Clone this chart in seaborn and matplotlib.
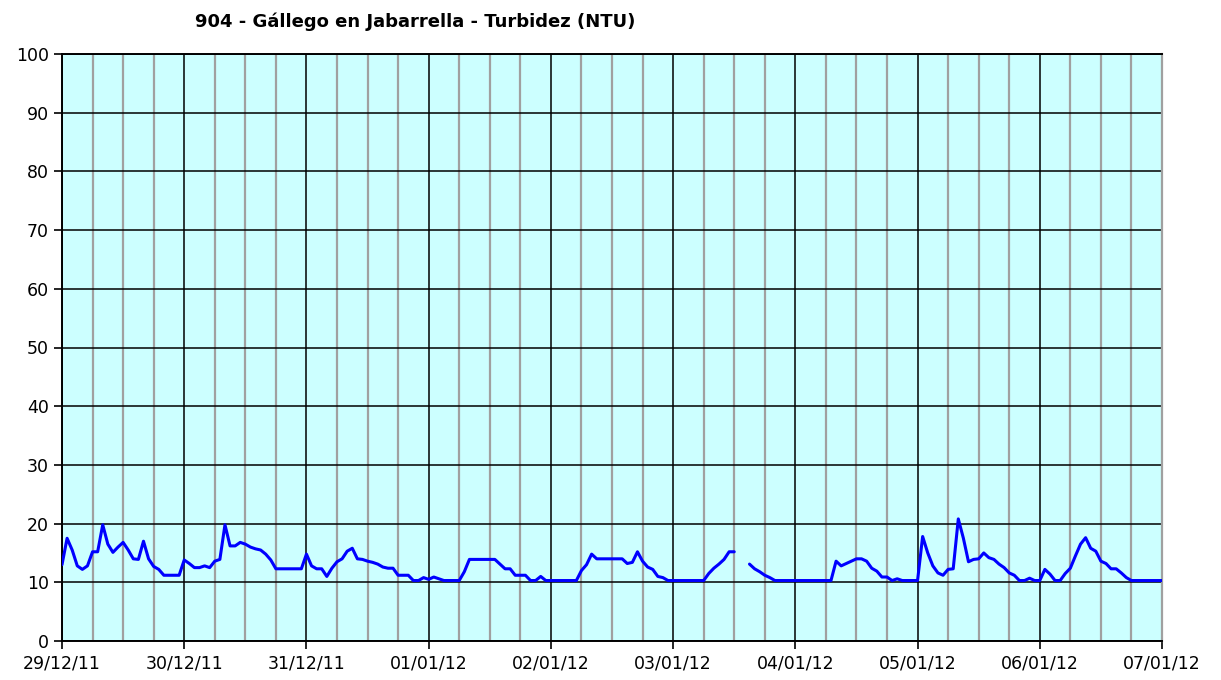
"""Turbidity time series for station 904 - Gállego en Jabarrella."""
import matplotlib
matplotlib.use("Agg")
import matplotlib.pyplot as plt
import matplotlib.dates as mdates
import numpy as np
import pandas as pd
import seaborn as sns

TITLE = "904 - Gállego en Jabarrella - Turbidez (NTU)"
START = "2011-12-29 00:00"

# hourly readings (NTU), one list per day; nan = missing reading
dec29 = [13.0, 17.5, 15.5, 12.8, 12.2, 12.8, 15.2, 15.2, 19.8, 16.5, 15.1, 16.0,
         16.8, 15.5, 14.0, 13.9, 17.0, 14.0, 12.7, 12.2, 11.2, 11.2, 11.2, 11.2]
dec30 = [13.8, 13.2, 12.5, 12.5, 12.8, 12.5, 13.6, 13.9, 19.8, 16.2, 16.2, 16.8,
         16.5, 16.0, 15.7, 15.5, 14.8, 13.8, 12.3, 12.3, 12.3, 12.3, 12.3, 12.3]
dec31 = [14.8, 12.8, 12.3, 12.3, 11.0, 12.4, 13.5, 14.0, 15.3, 15.8, 14.0, 13.9,
         13.6, 13.4, 13.1, 12.6, 12.4, 12.4, 11.2, 11.2, 11.2, 10.3, 10.3, 10.8]
jan01 = [10.5, 10.9, 10.6, 10.3, 10.3, 10.3, 10.3, 11.8, 13.9, 13.9, 13.9, 13.9,
         13.9, 13.9, 13.1, 12.3, 12.3, 11.2, 11.2, 11.2, 10.3, 10.3, 11.0, 10.3]
jan02 = [10.3, 10.3, 10.3, 10.3, 10.3, 10.3, 12.0, 13.0, 14.8, 14.0, 14.0, 14.0,
         14.0, 14.0, 14.0, 13.2, 13.4, 15.2, 13.6, 12.6, 12.2, 11.0, 10.8, 10.3]
jan03 = [10.3, 10.3, 10.3, 10.3, 10.3, 10.3, 10.3, 11.5, 12.4, 13.1, 13.9, 15.2,
         15.2, np.nan, np.nan, 13.1, 12.3, 11.8, 11.2, 10.8, 10.3, 10.3, 10.3, 10.3]
jan04 = [10.3, 10.3, 10.3, 10.3, 10.3, 10.3, 10.3, 10.3, 13.6, 12.8, 13.2, 13.6,
         14.0, 14.0, 13.6, 12.4, 11.9, 10.9, 10.9, 10.3, 10.6, 10.3, 10.3, 10.3]
jan05 = [10.3, 17.8, 15.0, 12.8, 11.6, 11.2, 12.2, 12.3, 20.8, 17.5, 13.5, 13.9,
         14.0, 15.0, 14.2, 13.9, 13.1, 12.5, 11.6, 11.2, 10.3, 10.3, 10.7, 10.3]
jan06 = [10.3, 12.2, 11.4, 10.3, 10.3, 11.5, 12.4, 14.5, 16.5, 17.6, 15.8, 15.3,
         13.6, 13.2, 12.3, 12.3, 11.6, 10.8, 10.3, 10.3, 10.3, 10.3, 10.3, 10.3]
jan07 = [10.3]

values = dec29 + dec30 + dec31 + jan01 + jan02 + jan03 + jan04 + jan05 + jan06 + jan07
df = pd.DataFrame({
    "fecha": pd.date_range(START, periods=len(values), freq="h"),
    "ntu": values,
})
# split at missing readings so the line shows a gap
df["tramo"] = df["ntu"].isna().cumsum()
df = df.dropna()

sns.set_style("white")
plt.rcParams["font.family"] = ["DejaVu Sans"]
plt.rcParams["text.color"] = "black"

fig = plt.figure(figsize=(12.21, 6.8), dpi=100)
ax = fig.add_axes([62 / 1221, 39 / 680, 1100 / 1221, 587 / 680])
ax.set_facecolor("#CCFFFF")

sns.lineplot(data=df, x="fecha", y="ntu", units="tramo", estimator=None,
             color="#0000FF", linewidth=2.2, ax=ax, zorder=3)

ax.set_xlim(pd.Timestamp("2011-12-29"), pd.Timestamp("2012-01-07"))
ax.set_ylim(0, 100)
ax.set_yticks(np.arange(0, 101, 10))
ax.xaxis.set_major_locator(mdates.DayLocator())
ax.xaxis.set_major_formatter(mdates.DateFormatter("%d/%m/%y"))
ax.xaxis.set_minor_locator(mdates.HourLocator(byhour=[6, 12, 18]))

ax.grid(True, which="minor", axis="x", color="#A0A0A0", linewidth=1.6, zorder=1)
ax.grid(True, which="major", axis="both", color="black", linewidth=1.1, zorder=2)
ax.set_axisbelow(True)
for side in ["left", "bottom", "top"]:
    ax.spines[side].set_color("black")
    ax.spines[side].set_linewidth(1.4)
ax.spines["right"].set_color("#A0A0A0")
ax.spines["right"].set_linewidth(1.6)

ax.tick_params(axis="both", which="major", direction="out", length=6, width=1.2,
               color="black", labelcolor="black", labelsize=12.5,
               left=True, bottom=True)
ax.tick_params(axis="x", which="minor", length=0)
ax.tick_params(axis="x", pad=4)
ax.set_xlabel("")
ax.set_ylabel("")

fig.text(415 / 1221, 1 - 22 / 680, TITLE, ha="center", va="center",
         fontsize=13, fontweight="bold", color="black")

fig.savefig("out.png", dpi=100)
